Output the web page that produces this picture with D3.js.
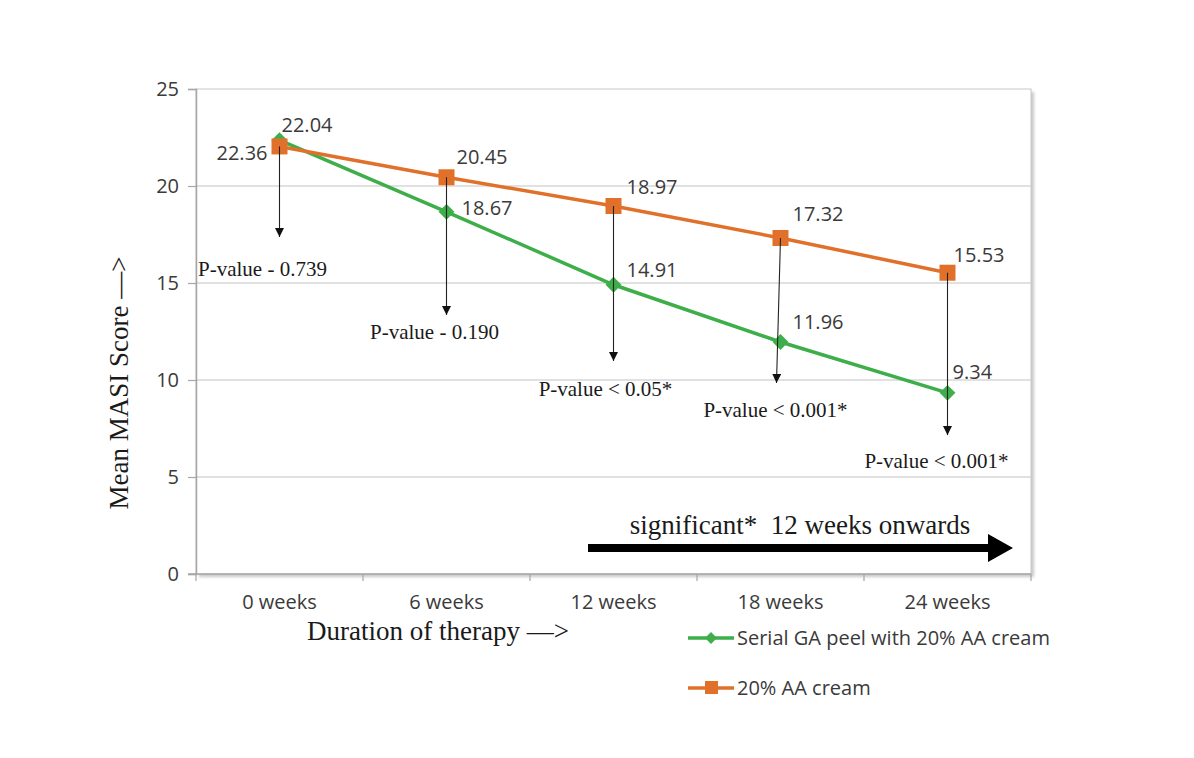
<!DOCTYPE html>
<html>
<head>
<meta charset="utf-8">
<script src="https://cdn.jsdelivr.net/npm/d3@7"></script>
<style>
  body { margin: 0; background: #fff; }
  .sans { font-family: "Open Sans", "DejaVu Sans", sans-serif; fill: #3a3a3a; }
  .serif { font-family: "Liberation Serif", "DejaVu Serif", serif; fill: #1a1a1a; white-space: pre; }
</style>
</head>
<body>
<svg id="chart" width="1194" height="758"></svg>
<script>
// data
const categories = ["0 weeks", "6 weeks", "12 weeks", "18 weeks", "24 weeks"];
const gaPeel = [22.36, 18.67, 14.91, 11.96, 9.34];   // Serial GA peel with 20% AA cream
const aaCream = [22.04, 20.45, 18.97, 17.32, 15.53]; // 20% AA cream
const yTicks = [0, 5, 10, 15, 20, 25];
const pValues = ["P-value - 0.739", "P-value - 0.190", "P-value < 0.05*", "P-value < 0.001*", "P-value < 0.001*"];

// annotation layout (arrow tip / text baseline in data units, x nudge in px)
const pArrowTip = [17.37, 13.35, 10.98, 9.85, 7.16];
const pTextBase = [15.36, 12.11, 9.18, 8.09, 5.46];
const pTextDx = [-17, -12, -8, -5, -11];

const green = "#3eae4a";
const orange = "#e0702a";

const svg = d3.select("#chart");

const x = d3.scaleBand()
    .domain(categories)
    .range([196, 1031])
    .padding(0);
const cx = d => x(d) + x.bandwidth() / 2;

const y = d3.scaleLinear()
    .domain([0, 25])
    .range([574, 89]);

// plot frame with soft shadow
const defs = svg.append("defs");
defs.append("filter").attr("id", "blur")
    .append("feGaussianBlur").attr("stdDeviation", 1.5);

svg.append("rect")
    .attr("x", 199).attr("y", 92)
    .attr("width", 835).attr("height", 485)
    .attr("fill", "#c8c8c8")
    .attr("filter", "url(#blur)");
svg.append("rect")
    .attr("x", 196).attr("y", 89)
    .attr("width", 835).attr("height", 485)
    .attr("fill", "#fff")
    .attr("stroke", "#c8c8c8")
    .attr("stroke-width", 1);

// gridlines
svg.selectAll(".grid")
    .data(yTicks.filter(t => t > 0 && t < 25))
    .enter().append("line")
    .attr("x1", 196).attr("x2", 1031)
    .attr("y1", d => y(d)).attr("y2", d => y(d))
    .attr("stroke", "#c4c4c4")
    .attr("stroke-width", 1.2);

// y axis
const yAxis = svg.append("g")
    .attr("transform", "translate(196,0)")
    .call(d3.axisLeft(y).tickValues(yTicks).tickSize(8).tickPadding(9));
yAxis.select(".domain").attr("stroke", "#a6a6a6").attr("stroke-width", 1.5);
yAxis.selectAll(".tick line").attr("stroke", "#a6a6a6").attr("stroke-width", 1.2);
yAxis.selectAll("text")
    .attr("class", "sans")
    .attr("font-size", 20);

// x axis: tick marks on band boundaries
svg.append("line")
    .attr("x1", 188).attr("x2", 1031)
    .attr("y1", y(0)).attr("y2", y(0))
    .attr("stroke", "#a6a6a6").attr("stroke-width", 1.5);
svg.selectAll(".xtick")
    .data(categories.concat(["end"]))
    .enter().append("line")
    .attr("x1", (d, i) => x.range()[0] + i * x.bandwidth())
    .attr("x2", (d, i) => x.range()[0] + i * x.bandwidth())
    .attr("y1", y(0)).attr("y2", y(0) + 7)
    .attr("stroke", "#a6a6a6").attr("stroke-width", 1.2);
svg.selectAll(".xlabel")
    .data(categories)
    .enter().append("text")
    .attr("class", "sans")
    .attr("x", d => cx(d))
    .attr("y", 609)
    .attr("text-anchor", "middle")
    .attr("font-size", 20)
    .text(d => d);

// axis titles
svg.append("text")
    .attr("class", "serif")
    .attr("transform", "translate(128,383) rotate(-90)")
    .attr("text-anchor", "middle")
    .attr("font-size", 27)
    .text("Mean MASI Score \u2014>");
svg.append("text")
    .attr("class", "serif")
    .attr("x", 438).attr("y", 640)
    .attr("text-anchor", "middle")
    .attr("font-size", 27)
    .text("Duration of therapy \u2014>");

// lines
const line = d3.line()
    .x((d, i) => cx(categories[i]))
    .y(d => y(d));

svg.append("path")
    .datum(gaPeel)
    .attr("d", line)
    .attr("fill", "none")
    .attr("stroke", green)
    .attr("stroke-width", 3.5);
svg.append("path")
    .datum(aaCream)
    .attr("d", line)
    .attr("fill", "none")
    .attr("stroke", orange)
    .attr("stroke-width", 3.5);

// markers
const diamond = d3.symbol().type(d3.symbolDiamond2).size(160);
svg.selectAll(".dia")
    .data(gaPeel)
    .enter().append("path")
    .attr("d", diamond)
    .attr("transform", (d, i) => `translate(${cx(categories[i])},${y(d)})`)
    .attr("fill", green);
svg.selectAll(".sq")
    .data(aaCream)
    .enter().append("rect")
    .attr("x", (d, i) => cx(categories[i]) - 8)
    .attr("y", d => y(d) - 8)
    .attr("width", 16).attr("height", 16)
    .attr("fill", orange);

// p-value arrows (from orange marker down)
defs.append("marker")
    .attr("id", "tip")
    .attr("viewBox", "0 0 10 10")
    .attr("refX", 10).attr("refY", 5)
    .attr("markerWidth", 9).attr("markerHeight", 9)
    .attr("markerUnits", "userSpaceOnUse")
    .attr("orient", "auto")
    .append("path").attr("d", "M0,0L10,5L0,10Z").attr("fill", "#111");

svg.selectAll(".parrow")
    .data(aaCream)
    .enter().append("line")
    .attr("x1", (d, i) => cx(categories[i]))
    .attr("x2", (d, i) => cx(categories[i]) - (i === 3 ? 4 : 0))
    .attr("y1", d => y(d))
    .attr("y2", (d, i) => y(pArrowTip[i]))
    .attr("stroke", "#222")
    .attr("stroke-width", 1.1)
    .attr("marker-end", "url(#tip)");

svg.selectAll(".ptext")
    .data(pValues)
    .enter().append("text")
    .attr("class", "serif")
    .attr("x", (d, i) => cx(categories[i]) + pTextDx[i])
    .attr("y", (d, i) => y(pTextBase[i]))
    .attr("text-anchor", "middle")
    .attr("font-size", 21)
    .text(d => d);

// data labels
const aaDx = [2, 10, 13, 12, 6], aaDy = [-14, -13, -12, -17, -11];
const gaDx = [-12, 15, 13, 12, 5], gaDy = [20, 3, -8, -13, -14];
svg.selectAll(".aalab")
    .data(aaCream)
    .enter().append("text")
    .attr("class", "sans")
    .attr("x", (d, i) => cx(categories[i]) + aaDx[i])
    .attr("y", (d, i) => y(d) + aaDy[i])
    .attr("font-size", 20)
    .text(d => d.toFixed(2));
svg.selectAll(".galab")
    .data(gaPeel)
    .enter().append("text")
    .attr("class", "sans")
    .attr("x", (d, i) => cx(categories[i]) + gaDx[i])
    .attr("y", (d, i) => y(d) + gaDy[i])
    .attr("text-anchor", (d, i) => i === 0 ? "end" : "start")
    .attr("font-size", 20)
    .text(d => d.toFixed(2));

// significance arrow
svg.append("text")
    .attr("class", "serif")
    .attr("x", 800).attr("y", 534)
    .attr("text-anchor", "middle")
    .attr("font-size", 27)
    .text("significant*  12 weeks onwards");
svg.append("path")
    .attr("d", "M588,544L988,544L988,534L1013,548L988,562L988,552L588,552Z")
    .attr("fill", "#000");

// legend
const legend = [
    { name: "Serial GA peel with 20% AA cream", color: green, shape: "diamond", y: 638 },
    { name: "20% AA cream", color: orange, shape: "square", y: 688 }
];
const lg = svg.selectAll(".leg")
    .data(legend)
    .enter().append("g")
    .attr("transform", d => `translate(688,${d.y})`);
lg.append("line")
    .attr("x1", 0).attr("x2", 46)
    .attr("stroke", d => d.color)
    .attr("stroke-width", 3.5);
lg.filter(d => d.shape === "diamond").append("path")
    .attr("d", d3.symbol().type(d3.symbolDiamond2).size(90))
    .attr("transform", "translate(23,0)")
    .attr("fill", d => d.color);
lg.filter(d => d.shape === "square").append("rect")
    .attr("x", 17).attr("y", -7)
    .attr("width", 13).attr("height", 13)
    .attr("fill", d => d.color);
lg.append("text")
    .attr("class", "sans")
    .attr("x", 49).attr("y", 7)
    .attr("font-size", 20)
    .text(d => d.name);
</script>
</body>
</html>
